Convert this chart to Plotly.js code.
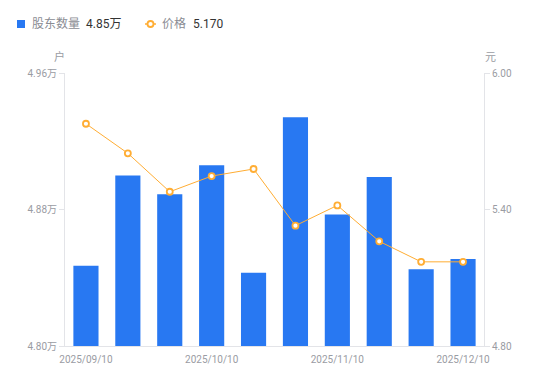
<!DOCTYPE html>
<html>
<head>
<meta charset="utf-8">
<script src="https://cdn.plot.ly/plotly-3.0.1.min.js"></script>
<style>html,body{margin:0;padding:0;background:#fff;}#chart{width:550px;height:381px;}</style>
</head>
<body>
<div id="chart"></div>
<script>
const dates = ['2025/09/10','2025/09/20','2025/09/30','2025/10/10','2025/10/20','2025/10/31','2025/11/10','2025/11/20','2025/11/30','2025/12/10'];
const holders = [4.847, 4.900, 4.889, 4.906, 4.843, 4.934, 4.877, 4.899, 4.845, 4.851]; // 万户
const prices = [5.777, 5.647, 5.478, 5.547, 5.578, 5.329, 5.418, 5.260, 5.170, 5.170]; // 元
const xTicks = ['2025/09/10','2025/10/10','2025/11/10','2025/12/10'];
const leftTicks = [4.80, 4.88, 4.96];
const rightTicks = [4.80, 5.40, 6.00];
const seriesNames = ['股东数量', '价格'];

const BLUE = '#2878f2', ORANGE = '#ffad33', GRAY = '#9a9ca3', AXIS = '#e3e4e8';
const FONT = 'Roboto, "Noto Sans CJK SC", sans-serif';

// pixel -> paper helpers (plot area 65..484 x, 73..346 y)
const px = p => (p - 65) / 419;
const py = p => (346 - p) / 273;

const traces = [
  {type:'bar', x:dates, y:holders, name:seriesNames[0], marker:{color:BLUE}, width:0.6, yaxis:'y', hoverinfo:'x+y'},
  {type:'scatter', mode:'lines+markers', x:dates, y:prices, name:seriesNames[1], yaxis:'y2',
   line:{color:ORANGE, width:1}, marker:{symbol:'circle', size:6, color:'#fff', line:{color:ORANGE, width:1.8}}}
];

const lastH = holders[holders.length-1].toFixed(2) + '万';
const lastP = prices[prices.length-1].toFixed(3);

const layout = {
  width:550, height:381,
  margin:{l:65, r:66, t:73, b:35},
  paper_bgcolor:'#fff', plot_bgcolor:'#fff',
  showlegend:false,
  font:{family:FONT, size:10, color:GRAY},
  bargap:0.4,
  xaxis:{type:'category', tickmode:'array', tickvals:xTicks, ticktext:xTicks, range:[-0.5, 9.5],
         showline:true, linecolor:AXIS, linewidth:1, ticks:'', showgrid:false, zeroline:false,
         tickfont:{size:10, color:GRAY}, ticklabelstandoff:4},
  yaxis:{range:[4.80, 4.96], tickmode:'array', tickvals:leftTicks, ticktext:leftTicks.map(v=>v.toFixed(2)+'万'),
         showline:true, linecolor:AXIS, linewidth:1, ticks:'outside', ticklen:5, tickcolor:AXIS,
         showgrid:false, zeroline:false, tickfont:{size:10, color:GRAY}},
  yaxis2:{overlaying:'y', side:'right', range:[4.80, 6.00], tickmode:'array', tickvals:rightTicks,
          ticktext:rightTicks.map(v=>v.toFixed(2)), showline:true, linecolor:AXIS, linewidth:1,
          ticks:'outside', ticklen:5, tickcolor:AXIS, showgrid:false, zeroline:false,
          tickfont:{size:10, color:GRAY}},
  shapes:[
    {type:'rect', xref:'paper', yref:'paper', x0:px(17), x1:px(25), y0:py(28), y1:py(20),
     fillcolor:BLUE, line:{width:0}},
    {type:'line', xref:'paper', yref:'paper', x0:px(145), x1:px(156), y0:py(24), y1:py(24),
     line:{color:ORANGE, width:1.5}},
    {type:'circle', xref:'paper', yref:'paper', x0:px(147.5), x1:px(153.5), y0:py(27), y1:py(21),
     fillcolor:'#fff', line:{color:ORANGE, width:1.8}}
  ],
  annotations:[
    {xref:'paper', yref:'paper', x:px(30), y:py(24), xanchor:'left', yanchor:'middle', showarrow:false,
     text:seriesNames[0], font:{size:12, color:'#8a8c93'}},
    {xref:'paper', yref:'paper', x:px(84), y:py(24), xanchor:'left', yanchor:'middle', showarrow:false,
     text:lastH, font:{size:12, color:'#333'}},
    {xref:'paper', yref:'paper', x:px(160), y:py(24), xanchor:'left', yanchor:'middle', showarrow:false,
     text:seriesNames[1], font:{size:12, color:'#8a8c93'}},
    {xref:'paper', yref:'paper', x:px(191), y:py(24), xanchor:'left', yanchor:'middle', showarrow:false,
     text:lastP, font:{size:12, color:'#333'}},
    {xref:'paper', yref:'paper', x:px(59), y:py(57), xanchor:'center', yanchor:'middle', showarrow:false,
     text:'户', font:{size:11, color:GRAY}},
    {xref:'paper', yref:'paper', x:px(490), y:py(57), xanchor:'center', yanchor:'middle', showarrow:false,
     text:'元', font:{size:11, color:GRAY}}
  ]
};

Plotly.newPlot('chart', traces, layout, {displayModeBar:false, staticPlot:true});
</script>
</body>
</html>
